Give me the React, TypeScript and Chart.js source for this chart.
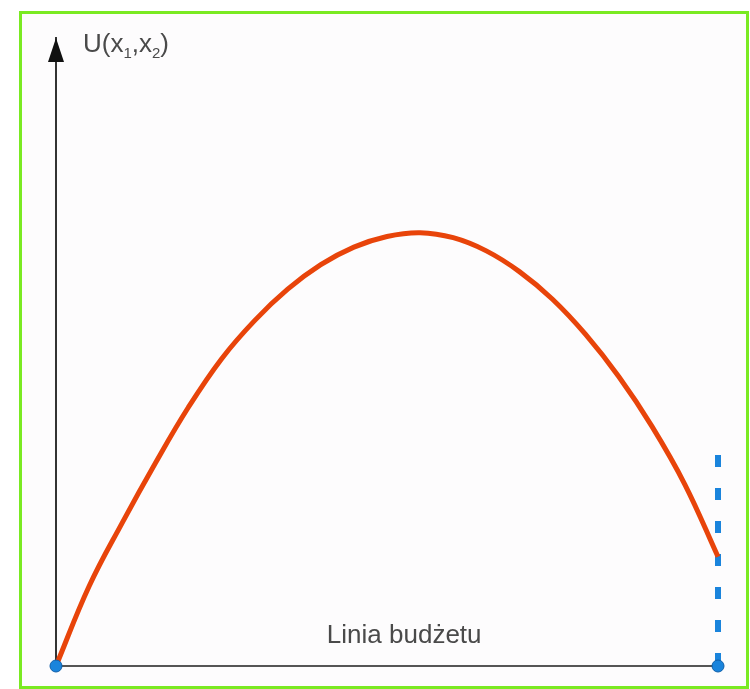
import React, { useEffect, useRef } from "react";
import { Chart, registerables } from "chart.js";

Chart.register(...registerables);

// Utility curve U(x1, x2) along the budget line (x: share of budget, 0..100)
const curveX = [0, 5, 10, 15, 20, 25, 30, 35, 40, 45, 50, 55, 60, 65, 70, 75, 80, 85, 90, 95, 100];
const curveY = [0, 12.7, 22.8, 32.3, 41.2, 48.9, 55.0, 60.0, 63.9, 66.7, 68.4, 69.0, 68.2, 66.1, 62.8, 58.4, 52.8, 46.1, 38.2, 28.9, 17.4];

// Dashed vertical marker at end of budget line
const dashX = [100, 100];
const dashY = [33.6, 0];

// Endpoints of budget line
const endX = [0, 100];
const endY = [0, 0];

const axisMin = 0;
const axisMax = 100;

const yLabelMain = ["U(x", ",x", ")"];
const yLabelSubs = ["1", "2"];
const xLabel = "Linia budżetu";

const FONT = '"Liberation Sans", Arial, sans-serif';

const overlayPlugin = {
  id: "overlay",
  afterDraw(chart: any) {
    const ctx = chart.ctx as CanvasRenderingContext2D;
    const xs = chart.scales.x;
    const ys = chart.scales.y;
    const x0 = xs.getPixelForValue(axisMin);
    const yTop = ys.getPixelForValue(axisMax);
    const yBottom = ys.getPixelForValue(axisMin);
    ctx.save();
    // arrow head on y axis
    ctx.fillStyle = "#111";
    ctx.beginPath();
    ctx.moveTo(x0, yTop);
    ctx.lineTo(x0 - 8, yTop + 24);
    ctx.lineTo(x0 + 8, yTop + 24);
    ctx.closePath();
    ctx.fill();

    // y label U(x1,x2)
    ctx.fillStyle = "#4a4a4a";
    ctx.textBaseline = "alphabetic";
    ctx.textAlign = "left";
    let tx = x0 + 27;
    const base = yTop + 14;
    const mainFont = `26px ${FONT}`;
    const subFont = `15px ${FONT}`;
    for (let i = 0; i < yLabelMain.length; i++) {
      ctx.font = mainFont;
      ctx.fillText(yLabelMain[i], tx, base);
      tx += ctx.measureText(yLabelMain[i]).width;
      if (i < yLabelSubs.length) {
        ctx.font = subFont;
        ctx.fillText(yLabelSubs[i], tx, base + 6);
        tx += ctx.measureText(yLabelSubs[i]).width;
      }
    }

    // x label
    ctx.font = `26px ${FONT}`;
    ctx.textAlign = "center";
    ctx.fillText(xLabel, xs.getPixelForValue(52.6), yBottom - 23);
    ctx.restore();
  },
};

export default function App() {
  const ref = useRef<HTMLCanvasElement | null>(null);

  useEffect(() => {
    if (!ref.current) return;
    const chart = new Chart(ref.current, {
      type: "line",
      data: {
        datasets: [
          {
            label: "dash",
            data: dashX.map((x, i) => ({ x, y: dashY[i] })),
            borderColor: "#1a84dc",
            borderWidth: 6,
            borderDash: [12, 21],
            borderCapStyle: "butt",
            pointRadius: 0,
            fill: false,
            clip: false,
            order: 3,
          },
          {
            label: "U",
            data: curveX.map((x, i) => ({ x, y: curveY[i] })),
            borderColor: "#e8440a",
            borderWidth: 5,
            pointRadius: 0,
            tension: 0.4,
            fill: false,
            clip: false,
            order: 2,
          },
          {
            label: "ends",
            data: endX.map((x, i) => ({ x, y: endY[i] })),
            showLine: false,
            pointRadius: 6,
            pointBackgroundColor: "#1a84dc",
            pointBorderColor: "#0f5ea8",
            pointBorderWidth: 1,
            clip: false,
            order: 1,
          },
        ],
      },
      options: {
        responsive: false,
        animation: false,
        devicePixelRatio: 1,
        layout: { autoPadding: false, padding: { left: 56, right: 32, top: 38, bottom: 23 } },
        plugins: { legend: { display: false }, tooltip: { enabled: false } },
        scales: {
          x: {
            type: "linear",
            min: axisMin,
            max: axisMax,
            ticks: { display: false },
            grid: { display: false, drawTicks: false },
            border: { display: true, color: "#555", width: 2 },
          },
          y: {
            type: "linear",
            min: axisMin,
            max: axisMax,
            ticks: { display: false },
            grid: { display: false, drawTicks: false },
            border: { display: true, color: "#333", width: 2 },
          },
        },
      },
      plugins: [overlayPlugin],
    } as any);
    return () => chart.destroy();
  }, []);

  return (
    <div style={{ position: "fixed", left: 0, top: 0, width: 750, height: 689, background: "#fff", overflow: "hidden" }}>
      <div
        style={{
          position: "absolute",
          left: 19,
          top: 11,
          width: 724,
          height: 672,
          border: "3px solid #7aea22",
          background: "#fdfcfd",
        }}
      />
      <canvas ref={ref} width={750} height={689} style={{ position: "absolute", left: 0, top: 0, width: 750, height: 689 }} />
    </div>
  );
}
